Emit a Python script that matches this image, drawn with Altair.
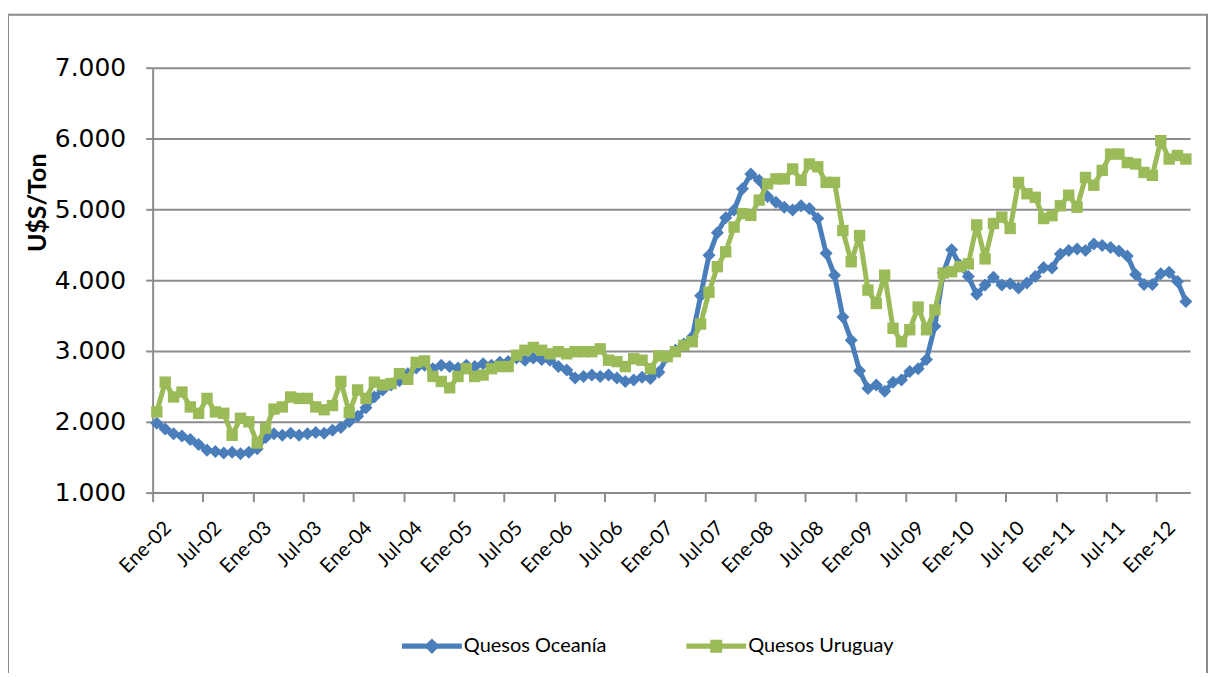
import json
import altair as alt
import pandas as pd

# ---- data (monthly, Jan 2002 .. Apr 2012), U$S/Ton ----
oceania = [
    1980, 1900, 1830, 1800, 1750, 1680, 1600, 1580, 1560, 1570, 1550, 1570,
    1620, 1780, 1830, 1810, 1840, 1810, 1830, 1850, 1840, 1880, 1920, 2000,
    2080, 2200, 2350, 2450, 2520, 2580, 2680, 2760, 2800, 2750, 2800, 2780,
    2760, 2800, 2780, 2820, 2800, 2840, 2850, 2900, 2870, 2900, 2880, 2870,
    2780, 2730, 2620, 2640, 2660, 2640, 2660, 2620, 2570, 2590, 2630, 2610,
    2700, 2920, 3010, 3100, 3200, 3780, 4350, 4670, 4880, 4990, 5290, 5500,
    5410, 5180, 5100, 5030, 4990, 5050, 5010, 4870, 4380, 4070, 3480, 3150,
    2720, 2470, 2520, 2430, 2560, 2590, 2710, 2750, 2880, 3350, 4100, 4430,
    4210, 4050, 3800, 3930, 4040, 3930, 3950, 3890, 3960, 4050, 4180, 4170,
    4370, 4420, 4440, 4420, 4510, 4490, 4460, 4410, 4340, 4080, 3940, 3940,
    4090, 4110, 3980, 3700,
]
uruguay = [
    2140, 2560, 2350, 2420, 2210, 2120, 2330, 2140, 2120, 1810, 2050, 2000,
    1700, 1910, 2180, 2210, 2350, 2330, 2330, 2210, 2170, 2230, 2570, 2130,
    2450, 2330, 2560, 2520, 2540, 2680, 2600, 2840, 2860, 2640, 2570, 2480,
    2640, 2750, 2640, 2660, 2750, 2780, 2780, 2940, 3010, 3050, 3010, 2960,
    2990, 2960, 2990, 2990, 2990, 3030, 2870, 2850, 2780, 2890, 2870, 2750,
    2930, 2920, 2990, 3080, 3130, 3380, 3830, 4190, 4400, 4750, 4940, 4915,
    5130, 5360, 5430, 5430, 5570, 5410, 5640, 5600, 5380, 5380, 4700, 4260,
    4630, 3860, 3670, 4070, 3320, 3130, 3300, 3620, 3300, 3580, 4100, 4120,
    4190, 4230, 4780, 4300, 4800, 4890, 4730, 5380, 5220, 5170, 4870, 4910,
    5050, 5200, 5030, 5450, 5340, 5550, 5780, 5780, 5660, 5640, 5520, 5480,
    5970, 5710, 5760, 5710,
]
series_names = ["Quesos Oceanía", "Quesos Uruguay"]
series_colors = ["#4A7EBB", "#9BBB59"]
tick_labels = [
    "Ene-02", "Jul-02", "Ene-03", "Jul-03", "Ene-04", "Jul-04", "Ene-05",
    "Jul-05", "Ene-06", "Jul-06", "Ene-07", "Jul-07", "Ene-08", "Jul-08",
    "Ene-09", "Jul-09", "Ene-10", "Jul-10", "Ene-11", "Jul-11", "Ene-12",
]
y_ticks = [1000, 2000, 3000, 4000, 5000, 6000, 7000]
n_categories = 124

rows = []
for i, (o, u) in enumerate(zip(oceania, uruguay)):
    rows.append({"t": i + 0.5, "serie": series_names[0], "v": o})
    rows.append({"t": i + 0.5, "serie": series_names[1], "v": u})
df = pd.DataFrame(rows)

GRID = "#8C8C8C"
x_vals = list(range(0, len(tick_labels) * 6, 6))
x_label_expr = json.dumps(tick_labels) + "[datum.value / 6]"

diamond_line = ("M-2.5,-0.22 L-0.43,-0.22 L0,-0.65 L0.43,-0.22 L2.5,-0.22 "
                "L2.5,0.22 L0.43,0.22 L0,0.65 L-0.43,0.22 L-2.5,0.22 Z")
square_line = ("M-2.5,-0.22 L-0.5,-0.22 L-0.5,-0.55 L0.5,-0.55 L0.5,-0.22 "
               "L2.5,-0.22 L2.5,0.22 L0.5,0.22 L0.5,0.55 L-0.5,0.55 "
               "L-0.5,0.22 L-2.5,0.22 Z")

color_scale = alt.Scale(domain=series_names, range=series_colors)

x_enc = alt.X(
    "t:Q",
    scale=alt.Scale(domain=[0, n_categories], nice=False, zero=False),
    axis=alt.Axis(
        values=x_vals, labelExpr=x_label_expr, labelAngle=-45,
        labelAlign="right", labelBaseline="top", labelOffset=8,
        labelPadding=16, labelFont="Lato", labelFontSize=20,
        labelColor="#000000", tickColor=GRID, tickSize=9, tickWidth=2,
        domainColor=GRID, domainWidth=2, grid=False, title=None,
        labelOverlap=False, labelBound=False, labelFlush=False,
    ),
)
y_enc = alt.Y(
    "v:Q",
    scale=alt.Scale(domain=[1000, 7000], nice=False, zero=False),
    axis=alt.Axis(
        values=y_ticks,
        labelExpr="replace(format(datum.value, ','), ',', '.')",
        labelFont="DejaVu Sans", labelFontSize=25, labelColor="#000000",
        labelPadding=20, tickColor=GRID, tickSize=7, tickWidth=2,
        domainColor=GRID, domainWidth=2, gridColor=GRID, gridWidth=2,
        title="U$S/Ton", titleFont="Lato", titleFontSize=25,
        titleFontWeight="bold", titleColor="#000000", titleAngle=-90,
        titleX=-115, titleY=135, titleAlign="center",
        titleBaseline="middle",
    ),
)

legend_props = dict(
    title=None, orient="none", direction="horizontal",
    legendX=268, legendY=568,
    symbolSize=576, symbolStrokeWidth=0, symbolOpacity=1,
    labelFont="Lato", labelFontSize=20, labelColor="#000000",
    labelOffset=20, columnPadding=80, labelLimit=400,
)

base = alt.Chart(df).encode(
    x=x_enc, y=y_enc,
    color=alt.Color("serie:N", scale=color_scale, legend=None),
)

layers = []
shapes = ["diamond", "square"]
sizes = [170, 130]
for name, shp, sz in zip(series_names, shapes, sizes):
    sub = base.transform_filter(alt.datum.serie == name)
    layers.append(sub.mark_line(strokeWidth=5, strokeJoin="round"))
    layers.append(sub.mark_point(shape=shp, size=sz, filled=True, opacity=1))

# invisible layer that only provides the legend (line + marker symbols)
legend_layer = alt.Chart(df).mark_point(filled=True, opacity=0).encode(
    x=x_enc, y=y_enc,
    color=alt.Color("serie:N", scale=color_scale, legend=alt.Legend(**legend_props)),
    shape=alt.Shape(
        "serie:N",
        scale=alt.Scale(domain=series_names, range=[diamond_line, square_line]),
        legend=alt.Legend(**legend_props),
    ),
)

frame = alt.Chart(pd.DataFrame({"a": [0]})).mark_rect(
    filled=False, stroke="#8A8A8A", strokeWidth=2
).encode(x=alt.value(-145), x2=alt.value(1057), y=alt.value(-53), y2=alt.value(650))

chart = alt.layer(frame, legend_layer, *layers).properties(
    width=1040, height=426,
    autosize=alt.AutoSizeParams(type="none"),
    padding={"left": 145, "top": 59, "right": 20, "bottom": 180},
    background="#FFFFFF",
).configure_view(stroke=None)

chart.save("out.html", embed_options={"renderer": "svg", "actions": False})
